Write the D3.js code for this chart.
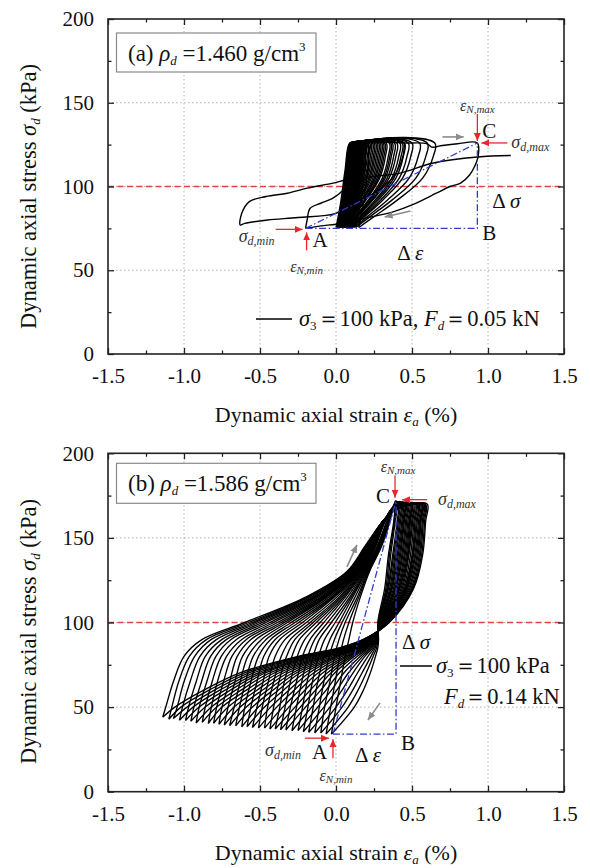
<!DOCTYPE html>
<html><head><meta charset="utf-8">
<script src="https://cdn.jsdelivr.net/npm/d3@7"></script>
<style>body{margin:0;background:#fff}svg text{font-family:"Liberation Serif",serif;fill:#111}</style>
</head><body><svg id="c" width="590" height="868" style="font-family:'Liberation Serif',serif"></svg>
<script>
// ---------- axes / ticks ----------
const xTicksMajor = [-1.5,-1.0,-0.5,0,0.5,1.0,1.5];
const xTickLabels = ["-1.5","-1.0","-0.5","0.0","0.5","1.0","1.5"];
const xTicksMinor = [-1.25,-0.75,-0.25,0.25,0.75,1.25];
const yTicksMajor = [0,50,100,150,200];
const yTicksMinor = [25,75,125,175];
const xGrid = [-1.0,-0.5,0,0.5,1.0];
const yGrid = [50,100,150];
const confiningStress = 100;

// ---------- panel (a) data ----------
// each dense loop: strain at the stress levels below (bottom tip, loading, top corner, top end, unloading)
const aDenseLevels = [75.5, 90, 110, 126, 126, 118, 105, 92, 82];
const aDenseLoops = [
 [0.00,0.03,0.06,0.09,0.13,0.127,0.109,0.066,0.026],
 [0.005,0.035,0.065,0.095,0.14,0.137,0.118,0.073,0.032],
 [0.01,0.04,0.07,0.10,0.15,0.147,0.128,0.081,0.038],
 [0.01,0.04,0.07,0.10,0.17,0.167,0.144,0.092,0.042],
 [0.015,0.045,0.075,0.105,0.18,0.177,0.154,0.10,0.048],
 [0.02,0.05,0.08,0.11,0.19,0.187,0.163,0.107,0.054],
 [0.025,0.055,0.085,0.115,0.20,0.196,0.171,0.112,0.056],
 [0.02,0.05,0.08,0.11,0.21,0.206,0.180,0.117,0.058],
 [0.03,0.06,0.09,0.12,0.22,0.216,0.190,0.127,0.068],
 [0.035,0.065,0.095,0.125,0.23,0.226,0.198,0.132,0.07],
 [0.03,0.06,0.09,0.12,0.24,0.236,0.206,0.137,0.072],
 [0.04,0.07,0.10,0.13,0.25,0.246,0.216,0.147,0.082],
 [0.045,0.075,0.105,0.135,0.26,0.255,0.224,0.152,0.084],
 [0.04,0.07,0.10,0.13,0.27,0.265,0.233,0.157,0.086],
 [0.05,0.08,0.11,0.14,0.28,0.275,0.243,0.167,0.096],
 [0.055,0.085,0.115,0.145,0.29,0.285,0.252,0.173,0.098],
 [0.05,0.08,0.11,0.14,0.30,0.295,0.260,0.178,0.100],
 [0.06,0.09,0.12,0.15,0.31,0.305,0.270,0.188,0.110],
 [0.065,0.095,0.125,0.155,0.32,0.315,0.279,0.193,0.112],
 [0.06,0.09,0.12,0.15,0.33,0.325,0.287,0.198,0.114],
 [0.07,0.10,0.13,0.16,0.35,0.344,0.305,0.213,0.126],
 [0.075,0.105,0.135,0.165,0.36,0.354,0.315,0.22,0.132],
 [0.08,0.11,0.14,0.17,0.37,0.364,0.324,0.228,0.138],
 [0.085,0.115,0.145,0.175,0.385,0.379,0.337,0.236,0.141],
 [0.08,0.11,0.14,0.17,0.40,0.394,0.349,0.243,0.144],
 [0.09,0.12,0.15,0.18,0.42,0.413,0.367,0.258,0.156],
 [0.095,0.125,0.155,0.185,0.435,0.428,0.38,0.268,0.163],
 [0.10,0.13,0.16,0.19,0.45,0.443,0.394,0.279,0.170],
 [0.105,0.135,0.165,0.195,0.475,0.467,0.416,0.294,0.179],
 [0.11,0.14,0.17,0.20,0.50,0.492,0.438,0.309,0.188],
 [0.12,0.15,0.18,0.21,0.55,0.541,0.481,0.339,0.206],
 [0.13,0.16,0.19,0.22,0.60,0.591,0.525,0.370,0.224],
 [0.15,0.18,0.21,0.24,0.65,0.640,0.570,0.405,0.250]
];
const aLoopACStrain = [-0.20,-0.19,-0.17,-0.10,-0.02,0.05,0.10,0.13,0.15,0.17,0.30,0.45,0.60,0.63,0.70,0.80,0.93,0.935,0.91,0.88,0.82,0.75,0.66,0.50,0.38,0.24,0.10,0.00,-0.10,-0.20];
const aLoopACStress = [75,80,87,90,93,98,104,112,120,126,126.5,126,125.5,123.5,124.5,125.5,126,118,111.6,107,102,100,96,89,85,82,79.5,77.5,76.5,75];
const aPathLeftStrain = [0.45,0.44,0.38,0.25,0.10,0.00,-0.25,-0.45,-0.60,-0.63,-0.62,-0.57,-0.46,-0.32,-0.19,-0.02,0.07,0.25,0.42,0.64,0.93,1.15];
const aPathLeftStress = [126,118,106,96,90,84,81.5,80,78,77,84,91,94,96,99,102,104,106,108,114,117.6,118.5];
const aPointA = [-0.20,75], aPointB = [0.93,75], aPointC = [0.93,126];
const aGrayArrows = [[[0.70,129.6],[0.84,129.6]],[[0.49,85.4],[0.32,81.8]]];

// ---------- panel (b) data ----------
const bLoadLevels = [50,65,80,90,100,115,130,145,160,167];
const bUnloadLevels = [160,140,120,100,90,85,80,70,60,50];
const bTipStrain = [-1.14,-1.10,-1.07,-1.03,-0.99,-0.955,-0.92,-0.88,-0.84,-0.805,-0.77,-0.735,-0.70,-0.66,-0.62,-0.585,-0.55,-0.51,-0.47,-0.435,-0.40,-0.365,-0.33,-0.29,-0.25,-0.215,-0.18,-0.14,-0.10,-0.065,-0.03];
const bTipStress = [44,42.8,43.2,42.2,42,41.6,40.6,41,40.3,40.4,39.8,39.3,39,38.9,38.3,38.4,37.9,37.6,37.6,37,37.1,36.6,36.5,36,36.1,35.4,35,34.7,34.6,34.1,34];
const bPeakStrain = [0.60,0.59,0.585,0.578,0.57,0.565,0.56,0.553,0.545,0.538,0.53,0.523,0.515,0.508,0.50,0.495,0.49,0.483,0.475,0.468,0.46,0.455,0.45,0.443,0.435,0.428,0.42,0.413,0.405,0.398,0.39];
const bPeakStress = [170,169.8,169.5,169.6,169.5,169.8,170,170.2,170,169.8,170,170.3,170.5,170.2,170,170.4,170.5,170.8,171,170.7,170.5,170.8,171,171.2,171,171.3,171.5,171.4,171.5,171.8,172];
const bLoadStrain = [
 [-1.12,-1.07,-1.00,-0.88,-0.60,-0.20,0.07,0.19,0.31,0.40],
 [-1.08,-1.035,-0.965,-0.85,-0.575,-0.19,0.075,0.195,0.31,0.40],
 [-1.045,-1.00,-0.93,-0.82,-0.55,-0.18,0.08,0.20,0.31,0.40],
 [-1.01,-0.96,-0.895,-0.785,-0.53,-0.165,0.085,0.20,0.31,0.40],
 [-0.97,-0.92,-0.86,-0.75,-0.51,-0.15,0.09,0.20,0.31,0.395],
 [-0.935,-0.885,-0.825,-0.72,-0.485,-0.14,0.095,0.205,0.31,0.39],
 [-0.90,-0.85,-0.79,-0.69,-0.46,-0.13,0.10,0.21,0.31,0.39],
 [-0.86,-0.815,-0.755,-0.655,-0.435,-0.115,0.105,0.21,0.31,0.39],
 [-0.82,-0.78,-0.72,-0.62,-0.41,-0.10,0.11,0.21,0.31,0.39],
 [-0.785,-0.74,-0.685,-0.59,-0.385,-0.09,0.115,0.215,0.315,0.385],
 [-0.75,-0.70,-0.65,-0.56,-0.36,-0.08,0.12,0.22,0.32,0.385],
 [-0.71,-0.665,-0.615,-0.525,-0.34,-0.07,0.125,0.225,0.32,0.38],
 [-0.67,-0.63,-0.58,-0.49,-0.32,-0.06,0.13,0.23,0.32,0.38],
 [-0.635,-0.595,-0.545,-0.46,-0.295,-0.045,0.135,0.23,0.32,0.38],
 [-0.60,-0.56,-0.51,-0.43,-0.27,-0.03,0.14,0.23,0.32,0.38],
 [-0.56,-0.52,-0.475,-0.40,-0.245,-0.02,0.145,0.235,0.32,0.375],
 [-0.52,-0.48,-0.44,-0.37,-0.22,-0.01,0.15,0.24,0.32,0.375],
 [-0.485,-0.445,-0.40,-0.335,-0.195,0.005,0.155,0.24,0.32,0.37],
 [-0.45,-0.41,-0.36,-0.30,-0.17,0.02,0.16,0.24,0.32,0.37],
 [-0.41,-0.375,-0.325,-0.27,-0.15,0.03,0.165,0.245,0.32,0.37],
 [-0.37,-0.34,-0.29,-0.24,-0.13,0.04,0.17,0.25,0.32,0.37],
 [-0.335,-0.30,-0.255,-0.205,-0.105,0.05,0.175,0.255,0.32,0.365],
 [-0.30,-0.26,-0.22,-0.17,-0.08,0.06,0.18,0.26,0.32,0.365],
 [-0.26,-0.225,-0.185,-0.14,-0.055,0.075,0.185,0.26,0.325,0.365],
 [-0.22,-0.19,-0.15,-0.11,-0.03,0.09,0.19,0.27,0.335,0.365],
 [-0.185,-0.155,-0.115,-0.075,-0.005,0.10,0.195,0.275,0.335,0.365],
 [-0.15,-0.12,-0.08,-0.04,0.02,0.11,0.20,0.28,0.34,0.365],
 [-0.11,-0.08,-0.045,-0.01,0.04,0.125,0.205,0.285,0.345,0.365],
 [-0.075,-0.04,-0.01,0.02,0.06,0.14,0.21,0.29,0.345,0.365],
 [-0.035,-0.005,0.025,0.05,0.085,0.15,0.215,0.295,0.35,0.37],
 [0.00,0.03,0.06,0.085,0.11,0.16,0.22,0.30,0.355,0.375]
];
const bUnloadStrain = [
 [0.59,0.57,0.51,0.35,0.18,0.02,-0.25,-0.64,-0.87,-1.06],
 [0.583,0.563,0.505,0.348,0.183,0.028,-0.235,-0.61,-0.835,-1.02],
 [0.575,0.555,0.50,0.345,0.187,0.037,-0.22,-0.58,-0.80,-0.98],
 [0.568,0.548,0.493,0.343,0.19,0.045,-0.20,-0.55,-0.765,-0.94],
 [0.56,0.54,0.485,0.34,0.193,0.054,-0.18,-0.52,-0.73,-0.90],
 [0.555,0.533,0.478,0.338,0.197,0.062,-0.165,-0.495,-0.695,-0.86],
 [0.55,0.525,0.47,0.335,0.20,0.071,-0.15,-0.47,-0.66,-0.82],
 [0.543,0.518,0.465,0.333,0.203,0.08,-0.13,-0.44,-0.625,-0.785],
 [0.535,0.51,0.46,0.33,0.207,0.088,-0.11,-0.41,-0.59,-0.75],
 [0.528,0.505,0.455,0.328,0.21,0.097,-0.095,-0.38,-0.555,-0.71],
 [0.52,0.50,0.45,0.325,0.213,0.105,-0.08,-0.35,-0.52,-0.67],
 [0.513,0.49,0.443,0.323,0.217,0.113,-0.065,-0.32,-0.485,-0.63],
 [0.505,0.48,0.435,0.32,0.22,0.122,-0.05,-0.29,-0.45,-0.59],
 [0.498,0.475,0.428,0.318,0.223,0.13,-0.03,-0.265,-0.415,-0.55],
 [0.49,0.47,0.42,0.315,0.227,0.139,-0.01,-0.24,-0.38,-0.51],
 [0.485,0.463,0.415,0.313,0.23,0.148,0.005,-0.21,-0.345,-0.47],
 [0.48,0.455,0.41,0.31,0.233,0.156,0.02,-0.18,-0.31,-0.43],
 [0.473,0.448,0.403,0.308,0.237,0.165,0.04,-0.15,-0.275,-0.39],
 [0.465,0.44,0.395,0.305,0.24,0.173,0.06,-0.12,-0.24,-0.35],
 [0.458,0.433,0.39,0.303,0.243,0.182,0.075,-0.09,-0.205,-0.31],
 [0.45,0.425,0.385,0.30,0.247,0.19,0.09,-0.06,-0.17,-0.27],
 [0.445,0.418,0.378,0.298,0.25,0.198,0.105,-0.035,-0.135,-0.235],
 [0.44,0.41,0.37,0.295,0.253,0.207,0.12,-0.01,-0.10,-0.20],
 [0.433,0.403,0.365,0.293,0.257,0.215,0.14,0.02,-0.065,-0.16],
 [0.425,0.395,0.36,0.29,0.26,0.224,0.16,0.05,-0.03,-0.12],
 [0.418,0.388,0.353,0.288,0.263,0.232,0.175,0.08,0.005,-0.08],
 [0.41,0.38,0.345,0.285,0.267,0.241,0.19,0.11,0.04,-0.04],
 [0.403,0.373,0.34,0.283,0.27,0.25,0.21,0.14,0.075,0.0],
 [0.39,0.36,0.335,0.28,0.273,0.258,0.23,0.17,0.11,0.04],
 [0.385,0.352,0.328,0.278,0.277,0.267,0.245,0.198,0.145,0.08],
 [0.38,0.345,0.32,0.275,0.28,0.275,0.26,0.225,0.18,0.12]
];
const bPointA = [-0.02,34], bPointB = [0.395,34], bPointC = [0.395,172];
const bGrayArrows = [[[0.072,132.9],[0.138,145.9]],[[0.29,52.5],[0.21,42.4]]];

// ---------- drawing ----------
const SERIF = "'Liberation Serif', 'Times New Roman', serif";
const svg = d3.select("#c");
const defs = svg.append("defs");
function marker(id, color){
  defs.append("marker").attr("id",id).attr("markerUnits","userSpaceOnUse")
    .attr("markerWidth",9).attr("markerHeight",8).attr("refX",8).attr("refY",4).attr("orient","auto")
    .append("path").attr("d","M0,0.5 L8,4 L0,7.5 Z").attr("fill",color);
}
marker("mRed","#e8262b"); marker("mGray","#8c8c8c");

const x = d3.scaleLinear().domain([-1.5,1.5]).range([108,564]);
const L = 108, R = 564;

function mathText(g, px, py, segs, anchor, size, rot){
  const t = g.append("text").attr("x",px).attr("y",py).attr("text-anchor",anchor||"start")
    .style("font-family",SERIF).attr("font-size",size);
  if(rot) t.attr("transform",`rotate(${rot},${px},${py})`);
  let cur = 0;
  segs.forEach(s=>{
    const ts = t.append("tspan").text(s.t);
    if(s.i) ts.attr("font-style","italic");
    if(s.fs) ts.attr("font-size",s.fs);
    const off = s.off||0;
    if(off!==cur) ts.attr("dy",off-cur);
    cur = off;
  });
  return t;
}
function plain(g,px,py,txt,size,anchor){
  return g.append("text").attr("x",px).attr("y",py).attr("text-anchor",anchor||"start")
    .style("font-family",SERIF).attr("font-size",size).text(txt);
}

function panel(cfg){
  const y = d3.scaleLinear().domain([0,200]).range([cfg.bottom,cfg.top]);
  const g = svg.append("g");
  const clipId = "clip"+cfg.id;
  defs.append("clipPath").attr("id",clipId).append("rect")
    .attr("x",L).attr("y",cfg.top).attr("width",R-L).attr("height",cfg.bottom-cfg.top);
  g.selectAll(".gx").data(xGrid).join("line").attr("x1",d=>x(d)).attr("x2",d=>x(d))
    .attr("y1",cfg.top).attr("y2",cfg.bottom).attr("stroke","#b0b0b0").attr("stroke-width",1).attr("stroke-dasharray","1.5,2.5");
  g.selectAll(".gy").data(yGrid).join("line").attr("y1",d=>y(d)).attr("y2",d=>y(d))
    .attr("x1",L).attr("x2",R).attr("stroke","#b0b0b0").attr("stroke-width",1).attr("stroke-dasharray","1.5,2.5");
  g.append("line").attr("x1",L).attr("x2",R).attr("y1",y(confiningStress)).attr("y2",y(confiningStress))
    .attr("stroke","#e2453f").attr("stroke-width",1.3).attr("stroke-dasharray","6,3.5");
  const line = d3.line().x(d=>x(d[0])).y(d=>y(d[1])).curve(d3.curveCatmullRom.alpha(0.5));
  const lg = g.append("g").attr("clip-path",`url(#${clipId})`).attr("fill","none").attr("stroke","#000")
    .attr("stroke-width",cfg.lw).attr("stroke-linejoin","round");
  cfg.loops.forEach(pts=> lg.append("path").attr("d",line(pts)));
  const [A,B,C] = cfg.pts;
  const straight = d3.line().x(d=>x(d[0])).y(d=>y(d[1]));
  const bl = g.append("g").attr("stroke","#2f3ccf").attr("stroke-width",1.3).attr("fill","none").attr("stroke-dasharray","7,2.5,1.5,2.5");
  bl.append("path").attr("d",straight([A,B,C]));
  bl.append("path").attr("d",straight([A,C]));
  cfg.gray.forEach(([p,q])=> g.append("line").attr("x1",x(p[0])).attr("y1",y(p[1])).attr("x2",x(q[0])).attr("y2",y(q[1]))
    .attr("stroke","#8c8c8c").attr("stroke-width",1.6).attr("marker-end","url(#mGray)"));
  const ax = g.append("g");
  const bottomAx = d3.axisBottom(x).tickValues(xTicksMajor).tickFormat((d,i)=>xTickLabels[i]).tickSizeInner(-6).tickSizeOuter(0).tickPadding(14);
  const bottomMinor = d3.axisBottom(x).tickValues(xTicksMinor).tickFormat("").tickSizeInner(-3.5).tickSizeOuter(0);
  const topAx = d3.axisTop(x).tickValues(xTicksMajor).tickFormat("").tickSizeInner(-6).tickSizeOuter(0);
  const topMinor = d3.axisTop(x).tickValues(xTicksMinor).tickFormat("").tickSizeInner(-3.5).tickSizeOuter(0);
  const leftAx = d3.axisLeft(y).tickValues(yTicksMajor).tickFormat(d3.format("d")).tickSizeInner(-6).tickSizeOuter(0).tickPadding(14);
  const leftMinor = d3.axisLeft(y).tickValues(yTicksMinor).tickFormat("").tickSizeInner(-3.5).tickSizeOuter(0);
  const rightAx = d3.axisRight(y).tickValues(yTicksMajor).tickFormat("").tickSizeInner(-6).tickSizeOuter(0);
  const rightMinor = d3.axisRight(y).tickValues(yTicksMinor).tickFormat("").tickSizeInner(-3.5).tickSizeOuter(0);
  [[bottomAx,0,cfg.bottom],[bottomMinor,0,cfg.bottom],[topAx,0,cfg.top],[topMinor,0,cfg.top],
   [leftAx,L,0],[leftMinor,L,0],[rightAx,R,0],[rightMinor,R,0]].forEach(([a,tx,ty])=>{
    const s = ax.append("g").attr("transform",`translate(${tx},${ty})`).call(a);
    s.attr("font-family",null);
    s.select(".domain").remove();
    s.selectAll("line").attr("stroke","#222").attr("stroke-width",1.3);
    s.selectAll("text").style("font-family",SERIF).attr("font-size",21).attr("fill","#111");
  });
  ax.append("rect").attr("x",L).attr("y",cfg.top).attr("width",R-L).attr("height",cfg.bottom-cfg.top)
    .attr("fill","none").attr("stroke","#222").attr("stroke-width",1.6);
  mathText(g, (L+R)/2, cfg.bottom+68, [{t:"Dynamic axial strain "},{t:"ε",i:1},{t:"a",i:1,fs:13,off:4},{t:" (%)",off:0}], "middle", 22);
  mathText(g, 36, (cfg.top+cfg.bottom)/2+cfg.ytOff, [{t:"Dynamic axial stress "},{t:"σ",i:1},{t:"d",i:1,fs:13,off:4},{t:" (kPa)",off:0}], "middle", 22.5, -90);
  g.append("rect").attr("x",116.5).attr("y",cfg.top+cfg.boxOff).attr("width",199.5).attr("height",cfg.boxH)
    .attr("fill","#fff").attr("stroke","#8a8a8a").attr("stroke-width",1.2);
  mathText(g, 128, cfg.top+cfg.boxOff+cfg.boxH/2+8, [{t:cfg.tag+" "},{t:"ρ",i:1},{t:"d",i:1,fs:13,off:4},{t:" ="+cfg.density+" g/cm",off:0},{t:"3",fs:13,off:-10}], "start", 23);
  const red = (x1,y1,x2,y2)=> g.append("line").attr("x1",x1).attr("y1",y1).attr("x2",x2).attr("y2",y2)
    .attr("stroke","#e8262b").attr("stroke-width",1.3).attr("marker-end","url(#mRed)");
  const Ap=[x(A[0]),y(A[1])], Bp=[x(B[0]),y(B[1])], Cp=[x(C[0]),y(C[1])];
  cfg.annot(g, Ap, Bp, Cp, red, y);
}

function epsLbl(g,px,py,sub){ return mathText(g,px,py,[{t:"ε",i:1,fs:16},{t:sub,i:1,fs:11,off:2}],"middle",16).style("fill","#333"); }
function sigLbl(g,px,py,sub,anchor){ return mathText(g,px,py,[{t:"σ",i:1,fs:18},{t:sub,i:1,fs:12,off:3}],anchor,18).style("fill","#333"); }

// panel (a)
const loopsA = aDenseLoops.map(r=>{ const p=r.map((v,j)=>[v,aDenseLevels[j]]); p.push([r[0],aDenseLevels[0]]); return p; });
loopsA.push(d3.zip(aLoopACStrain,aLoopACStress));
loopsA.push(d3.zip(aPathLeftStrain,aPathLeftStress));
panel({id:"a", top:19, bottom:354, boxOff:14, boxH:39, tag:"(a)", density:"1.460", lw:1.4, ytOff:10,
  loops:loopsA, pts:[aPointA,aPointB,aPointC], gray:aGrayArrows,
  annot:(g,A,B,C,red)=>{
    epsLbl(g,C[0],C[1]-32,"N,max");
    red(C[0],C[1]-29,C[0],C[1]-2);
    plain(g,C[0]+5,C[1]-5,"C",21);
    red(C[0]+30,C[1],C[0]+4,C[1]);
    sigLbl(g,C[0]+34,C[1]+5,"d,max","start");
    plain(g,B[0]+5,B[1]+12,"B",21);
    mathText(g,B[0]+15,B[1]-20,[{t:"Δ "},{t:"σ",i:1}],"start",21);
    mathText(g,B[0]-80,B[1]+32,[{t:"Δ "},{t:"ε",i:1}],"start",21);
    plain(g,A[0]+7,A[1]+19,"A",21);
    sigLbl(g,A[0]-31,A[1]+14,"d,min","end");
    red(A[0]-30,A[1]+1,A[0]-3,A[1]+1);
    red(A[0]+1,A[1]+22,A[0]+1,A[1]+4);
    epsLbl(g,A[0]+1,A[1]+44,"N,min");
    g.append("line").attr("x1",256).attr("x2",292).attr("y1",319).attr("y2",319).attr("stroke","#000").attr("stroke-width",1.5);
    mathText(g,299,326,[{t:"σ",i:1},{t:"3",fs:13,off:4},{t:"＝100 kPa, ",off:0},{t:"F",i:1},{t:"d",i:1,fs:13,off:4},{t:"＝0.05 kN",off:0}],"start",22.5);
  }});

// panel (b)
const loopsB = bTipStrain.map((tx,i)=>{
  const p=[[tx,bTipStress[i]]];
  bLoadLevels.forEach((lv,j)=>p.push([bLoadStrain[i][j],lv]));
  p.push([bPeakStrain[i],bPeakStress[i]]);
  bUnloadLevels.forEach((lv,j)=>p.push([bUnloadStrain[i][j],lv]));
  p.push([tx,bTipStress[i]]);
  return p;
});
panel({id:"b", top:453.3, bottom:791.7, boxOff:10, boxH:40, tag:"(b)", density:"1.586", lw:1.35, ytOff:9,
  loops:loopsB, pts:[bPointA,bPointB,bPointC], gray:bGrayArrows,
  annot:(g,A,B,C,red)=>{
    epsLbl(g,C[0]+2,C[1]-29,"N,max");
    red(C[0]-1,C[1]-25,C[0]-1,C[1]-3);
    plain(g,C[0]-6,C[1]+2,"C",21,"end");
    red(C[0]+31,C[1]-1,C[0]+6,C[1]-1);
    sigLbl(g,C[0]+42,C[1]+4,"d,max","start");
    plain(g,B[0]+5,B[1]+16,"B",21);
    mathText(g,B[0]+6,B[1]-85,[{t:"Δ "},{t:"σ",i:1}],"start",21);
    mathText(g,B[0]-41,B[1]+28,[{t:"Δ "},{t:"ε",i:1}],"start",21);
    plain(g,A[0]-21,A[1]+25,"A",21);
    sigLbl(g,A[0]-32,A[1]+22,"d,min","end");
    red(A[0]-28,A[1]+4,A[0]-4,A[1]+4);
    red(A[0],A[1]+24,A[0],A[1]+5);
    epsLbl(g,A[0]+3,A[1]+47,"N,min");
    g.append("line").attr("x1",400).attr("x2",432).attr("y1",666).attr("y2",666).attr("stroke","#000").attr("stroke-width",1.5);
    mathText(g,436,673,[{t:"σ",i:1},{t:"3",fs:13,off:4},{t:"＝100 kPa",off:0}],"start",22.5);
    mathText(g,444,704,[{t:"F",i:1},{t:"d",i:1,fs:13,off:4},{t:"＝0.14 kN",off:0}],"start",22.5);
  }});
</script></body></html>
